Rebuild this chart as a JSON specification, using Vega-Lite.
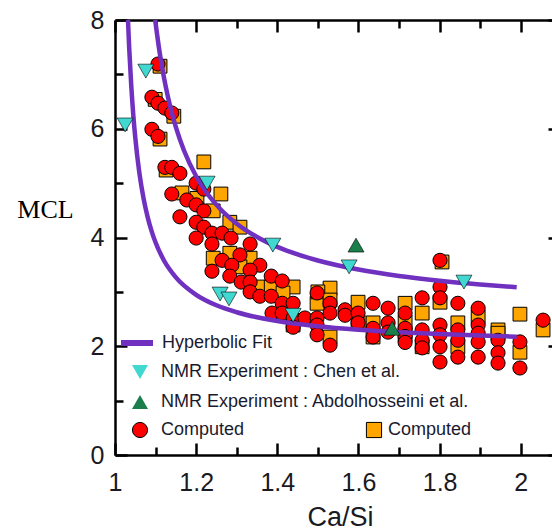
{
  "$schema": "https://vega.github.io/schema/vega-lite/v6.json",
  "width": 437,
  "height": 435,
  "autosize": {"type": "none"},
  "padding": {"left": 115, "top": 20, "right": 0, "bottom": 76},
  "background": "white",
  "config": {
    "view": {"stroke": null},
    "axis": {"domainColor": "black", "tickColor": "black", "domainWidth": 2.5, "tickWidth": 2.5, "grid": false, "zindex": 1, "labelFont": "Liberation Sans", "labelColor": "#1a1a22", "titleFont": "Liberation Sans", "titleColor": "#1a1a22", "titleFontWeight": "normal"},
    "legend": {"padding": 0, "labelFont": "Liberation Sans", "labelFontSize": 18, "labelColor": "#1a1a2e", "labelOffset": 6, "rowPadding": 12, "symbolStrokeColor": "black", "symbolStrokeWidth": 1, "labelLimit": 500}
  },
  "datasets": {
    "circles": [
      {"ca_si":1.106,"mcl":7.19},{"ca_si":1.091,"mcl":6.58},{"ca_si":1.106,"mcl":6.47},{"ca_si":1.123,"mcl":6.38},{"ca_si":1.140,"mcl":6.29},{"ca_si":1.091,"mcl":5.99},{"ca_si":1.106,"mcl":5.86},{"ca_si":1.123,"mcl":5.29},{"ca_si":1.140,"mcl":5.29},{"ca_si":1.160,"mcl":5.18},{"ca_si":1.200,"mcl":5.00},{"ca_si":1.219,"mcl":4.89},{"ca_si":1.140,"mcl":4.80},{"ca_si":1.177,"mcl":4.69},{"ca_si":1.200,"mcl":4.60},{"ca_si":1.219,"mcl":4.49},{"ca_si":1.160,"mcl":4.38},{"ca_si":1.200,"mcl":4.28},{"ca_si":1.219,"mcl":4.19},{"ca_si":1.239,"mcl":4.08},{"ca_si":1.264,"mcl":4.08},{"ca_si":1.200,"mcl":3.99},{"ca_si":1.286,"mcl":3.99},{"ca_si":1.239,"mcl":3.88},{"ca_si":1.333,"mcl":3.88},{"ca_si":1.264,"mcl":3.58},{"ca_si":1.308,"mcl":3.68},{"ca_si":1.288,"mcl":3.49},{"ca_si":1.357,"mcl":3.49},{"ca_si":1.239,"mcl":3.38},{"ca_si":1.333,"mcl":3.40},{"ca_si":1.283,"mcl":3.29},{"ca_si":1.385,"mcl":3.29},{"ca_si":1.311,"mcl":3.18},{"ca_si":1.333,"mcl":3.18},{"ca_si":1.412,"mcl":3.20},{"ca_si":1.333,"mcl":3.00},{"ca_si":1.357,"mcl":2.92},{"ca_si":1.385,"mcl":2.92},{"ca_si":1.412,"mcl":2.79},{"ca_si":1.439,"mcl":2.79},{"ca_si":1.387,"mcl":2.61},{"ca_si":1.412,"mcl":2.61},{"ca_si":1.439,"mcl":2.52},{"ca_si":1.439,"mcl":2.35},{"ca_si":1.468,"mcl":2.52},{"ca_si":1.498,"mcl":2.98},{"ca_si":1.530,"mcl":2.79},{"ca_si":1.498,"mcl":2.52},{"ca_si":1.498,"mcl":2.39},{"ca_si":1.530,"mcl":2.61},{"ca_si":1.567,"mcl":2.67},{"ca_si":1.567,"mcl":2.57},{"ca_si":1.599,"mcl":2.61},{"ca_si":1.498,"mcl":2.21},{"ca_si":1.530,"mcl":2.02},{"ca_si":1.636,"mcl":2.79},{"ca_si":1.599,"mcl":2.43},{"ca_si":1.636,"mcl":2.33},{"ca_si":1.636,"mcl":2.17},{"ca_si":1.673,"mcl":2.70},{"ca_si":1.673,"mcl":2.43},{"ca_si":1.673,"mcl":2.26},{"ca_si":1.715,"mcl":2.61},{"ca_si":1.715,"mcl":2.33},{"ca_si":1.715,"mcl":2.18},{"ca_si":1.715,"mcl":2.07},{"ca_si":1.757,"mcl":2.89},{"ca_si":1.757,"mcl":2.30},{"ca_si":1.757,"mcl":2.11},{"ca_si":1.757,"mcl":1.97},{"ca_si":1.801,"mcl":3.58},{"ca_si":1.801,"mcl":3.09},{"ca_si":1.801,"mcl":2.89},{"ca_si":1.801,"mcl":2.39},{"ca_si":1.801,"mcl":2.21},{"ca_si":1.801,"mcl":1.99},{"ca_si":1.801,"mcl":1.71},{"ca_si":1.845,"mcl":2.79},{"ca_si":1.845,"mcl":2.30},{"ca_si":1.845,"mcl":2.11},{"ca_si":1.845,"mcl":1.80},{"ca_si":1.895,"mcl":2.70},{"ca_si":1.895,"mcl":2.39},{"ca_si":1.895,"mcl":2.24},{"ca_si":1.895,"mcl":2.08},{"ca_si":1.895,"mcl":1.80},{"ca_si":1.944,"mcl":2.11},{"ca_si":1.944,"mcl":1.88},{"ca_si":1.944,"mcl":1.69},{"ca_si":1.998,"mcl":2.08},{"ca_si":1.998,"mcl":1.60},{"ca_si":2.055,"mcl":2.48}
    ],
    "squares": [
      {"ca_si":1.111,"mcl":7.15},{"ca_si":1.099,"mcl":6.54},{"ca_si":1.145,"mcl":6.23},{"ca_si":1.111,"mcl":5.81},{"ca_si":1.126,"mcl":5.24},{"ca_si":1.219,"mcl":5.39},{"ca_si":1.261,"mcl":4.80},{"ca_si":1.165,"mcl":4.82},{"ca_si":1.202,"mcl":4.72},{"ca_si":1.242,"mcl":4.49},{"ca_si":1.283,"mcl":4.28},{"ca_si":1.308,"mcl":4.19},{"ca_si":1.242,"mcl":3.62},{"ca_si":1.283,"mcl":3.71},{"ca_si":1.333,"mcl":3.62},{"ca_si":1.308,"mcl":3.46},{"ca_si":1.357,"mcl":3.09},{"ca_si":1.385,"mcl":3.09},{"ca_si":1.439,"mcl":3.09},{"ca_si":1.414,"mcl":2.98},{"ca_si":1.439,"mcl":2.39},{"ca_si":1.530,"mcl":3.07},{"ca_si":1.498,"mcl":2.79},{"ca_si":1.500,"mcl":3.00},{"ca_si":1.530,"mcl":2.85},{"ca_si":1.530,"mcl":2.17},{"ca_si":1.599,"mcl":2.81},{"ca_si":1.599,"mcl":2.45},{"ca_si":1.636,"mcl":2.43},{"ca_si":1.636,"mcl":2.17},{"ca_si":1.715,"mcl":2.79},{"ca_si":1.715,"mcl":2.45},{"ca_si":1.715,"mcl":2.21},{"ca_si":1.757,"mcl":2.61},{"ca_si":1.757,"mcl":1.99},{"ca_si":1.801,"mcl":2.81},{"ca_si":1.845,"mcl":2.43},{"ca_si":1.845,"mcl":1.99},{"ca_si":1.895,"mcl":2.54},{"ca_si":1.944,"mcl":2.30},{"ca_si":1.944,"mcl":2.24},{"ca_si":1.998,"mcl":2.59},{"ca_si":1.998,"mcl":1.89},{"ca_si":2.055,"mcl":2.30},{"ca_si":1.806,"mcl":3.55}
    ],
    "nmr": [
      {"ca_si":1.025,"mcl":6.07,"source":"NMR Experiment : Chen et al."},
      {"ca_si":1.076,"mcl":7.06,"source":"NMR Experiment : Chen et al."},
      {"ca_si":1.227,"mcl":5.00,"source":"NMR Experiment : Chen et al."},
      {"ca_si":1.389,"mcl":3.86,"source":"NMR Experiment : Chen et al."},
      {"ca_si":1.577,"mcl":3.46,"source":"NMR Experiment : Chen et al."},
      {"ca_si":1.860,"mcl":3.18,"source":"NMR Experiment : Chen et al."},
      {"ca_si":1.259,"mcl":2.96,"source":"NMR Experiment : Chen et al."},
      {"ca_si":1.281,"mcl":2.87,"source":"NMR Experiment : Chen et al."},
      {"ca_si":1.439,"mcl":2.57,"source":"NMR Experiment : Chen et al."},
      {"ca_si":1.594,"mcl":3.86,"source":"NMR Experiment : Abdolhosseini et al."},
      {"ca_si":1.683,"mcl":2.33,"source":"NMR Experiment : Abdolhosseini et al."}
    ],
    "fit_upper": [
      {"ca_si":1.099,"mcl":8.00},{"ca_si":1.11,"mcl":7.405},{"ca_si":1.12,"mcl":6.968},{"ca_si":1.13,"mcl":6.603},{"ca_si":1.14,"mcl":6.295},{"ca_si":1.15,"mcl":6.031},{"ca_si":1.17,"mcl":5.601},{"ca_si":1.2,"mcl":5.127},{"ca_si":1.23,"mcl":4.781},{"ca_si":1.26,"mcl":4.519},{"ca_si":1.3,"mcl":4.254},{"ca_si":1.35,"mcl":4.010},{"ca_si":1.4,"mcl":3.828},{"ca_si":1.45,"mcl":3.688},{"ca_si":1.5,"mcl":3.577},{"ca_si":1.6,"mcl":3.410},{"ca_si":1.7,"mcl":3.292},{"ca_si":1.8,"mcl":3.204},{"ca_si":1.9,"mcl":3.135},{"ca_si":1.99,"mcl":3.086}
    ],
    "fit_lower": [
      {"ca_si":1.032,"mcl":8.00},{"ca_si":1.035,"mcl":7.483},{"ca_si":1.04,"mcl":6.796},{"ca_si":1.045,"mcl":6.261},{"ca_si":1.05,"mcl":5.833},{"ca_si":1.06,"mcl":5.191},{"ca_si":1.07,"mcl":4.733},{"ca_si":1.08,"mcl":4.389},{"ca_si":1.09,"mcl":4.122},{"ca_si":1.1,"mcl":3.908},{"ca_si":1.12,"mcl":3.587},{"ca_si":1.15,"mcl":3.266},{"ca_si":1.2,"mcl":2.946},{"ca_si":1.25,"mcl":2.753},{"ca_si":1.3,"mcl":2.625},{"ca_si":1.4,"mcl":2.464},{"ca_si":1.5,"mcl":2.368},{"ca_si":1.6,"mcl":2.304},{"ca_si":1.7,"mcl":2.258},{"ca_si":1.8,"mcl":2.224},{"ca_si":1.9,"mcl":2.197},{"ca_si":1.99,"mcl":2.177}
    ]
  },
  "resolve": {
    "scale": {"fill": "independent", "shape": "independent", "stroke": "independent"},
    "axis": {"x": "independent", "y": "independent"}
  },
  "layer": [
    {
      "data": {"name": "squares"},
      "mark": {"type": "point", "shape": "square", "filled": true, "size": 190, "stroke": "black", "strokeWidth": 1, "opacity": 1},
      "encoding": {
        "x": {"field": "ca_si", "type": "quantitative", "scale": {"domain": [1, 2.077], "nice": false, "zero": false},
              "axis": {"orient": "bottom", "title": "Ca/Si", "titleFontSize": 27, "titleX": 225, "titleY": 70, "titleBaseline": "alphabetic", "titleAlign": "center", "values": [1, 1.2, 1.4, 1.6, 1.8, 2], "ticks": false, "labelFontSize": 25, "labelPadding": 15, "labelFlush": false, "format": "~g"}},
        "y": {"field": "mcl", "type": "quantitative", "scale": {"domain": [0, 8], "nice": false, "zero": true},
              "axis": {"orient": "left", "title": "MCL", "titleFont": "Liberation Serif", "titleFontSize": 26, "titleColor": "black", "titleAngle": 0, "titleX": -70, "titleY": 197, "titleAlign": "center", "titleBaseline": "alphabetic", "values": [0, 2, 4, 6, 8], "ticks": false, "labelFontSize": 25, "labelPadding": 11, "labelFlush": false}},
        "fill": {"datum": "Computed", "scale": {"range": ["#FFA500"]},
                 "legend": {"orient": "none", "legendX": 250, "legendY": 401, "title": null, "symbolType": "square", "symbolSize": 230, "labelOffset": 5}}
      }
    },
    {
      "data": {"name": "circles"},
      "mark": {"type": "point", "shape": "circle", "filled": true, "size": 200, "stroke": "black", "strokeWidth": 1, "opacity": 1},
      "encoding": {
        "x": {"field": "ca_si", "type": "quantitative", "scale": {"domain": [1, 2.077], "nice": false, "zero": false},
              "axis": {"orient": "top", "offset": -435, "title": null, "values": [1, 1.2, 1.4, 1.6, 1.8, 2], "tickSize": 12, "labels": false, "domain": false}},
        "y": {"field": "mcl", "type": "quantitative", "scale": {"domain": [0, 8], "nice": false, "zero": true},
              "axis": {"orient": "right", "offset": -437, "title": null, "values": [0, 2, 4, 6, 8], "tickSize": 12, "labels": false, "domain": false}},
        "fill": {"datum": "Computed", "scale": {"range": ["#FF0000"]},
                 "legend": {"orient": "none", "legendX": 16, "legendY": 401, "title": null, "symbolType": "circle", "symbolSize": 230, "labelOffset": 12}}
      }
    },
    {
      "data": {"name": "fit_upper"},
      "mark": {"type": "line", "strokeWidth": 4.5, "interpolate": "monotone"},
      "encoding": {
        "x": {"field": "ca_si", "type": "quantitative", "scale": {"domain": [1, 2.077], "nice": false, "zero": false},
              "axis": {"orient": "bottom", "offset": -435, "title": null, "values": [1, 1.2, 1.4, 1.6, 1.8, 2], "tickSize": 12, "labels": false, "domain": true}},
        "y": {"field": "mcl", "type": "quantitative", "scale": {"domain": [0, 8], "nice": false, "zero": true},
              "axis": {"orient": "left", "offset": -437, "title": null, "values": [0, 2, 4, 6, 8], "tickSize": 4, "labels": false, "domain": false}},
        "stroke": {"datum": "Hyperbolic Fit", "scale": {"range": ["#7030C0"]},
                   "legend": {"orient": "none", "legendX": 3, "legendY": 304, "title": null, "symbolType": "stroke", "symbolSize": 1024, "symbolStrokeWidth": 6}}
      }
    },
    {
      "data": {"name": "fit_lower"},
      "mark": {"type": "line", "strokeWidth": 4.5, "interpolate": "monotone", "stroke": "#7030C0"},
      "encoding": {
        "x": {"field": "ca_si", "type": "quantitative", "scale": {"domain": [1, 2.077], "nice": false, "zero": false},
              "axis": {"orient": "top", "offset": -435, "title": null, "values": [1.1, 1.3, 1.5, 1.7, 1.9], "tickSize": 8, "labels": false, "domain": false}},
        "y": {"field": "mcl", "type": "quantitative", "scale": {"domain": [0, 8], "nice": false, "zero": true},
              "axis": {"orient": "right", "offset": -437, "title": null, "values": [1, 3, 5, 7], "tickSize": 8, "labels": false, "domain": false}}
      }
    },
    {
      "data": {"name": "nmr"},
      "mark": {"type": "point", "filled": true, "size": 256, "stroke": "black", "strokeWidth": 0.6, "opacity": 1},
      "encoding": {
        "x": {"field": "ca_si", "type": "quantitative", "scale": {"domain": [1, 2.077], "nice": false, "zero": false},
              "axis": {"orient": "bottom", "offset": -435, "title": null, "values": [1.1, 1.3, 1.5, 1.7, 1.9], "tickSize": 8, "labels": false, "domain": false}},
        "y": {"field": "mcl", "type": "quantitative", "scale": {"domain": [0, 8], "nice": false, "zero": true}, "axis": null},
        "fill": {"field": "source", "type": "nominal",
                 "scale": {"domain": ["NMR Experiment : Chen et al.", "NMR Experiment : Abdolhosseini et al."], "range": ["#40D8D0", "#1A7F4B"]},
                 "legend": {"orient": "none", "legendX": 16, "legendY": 343, "title": null, "symbolSize": 256, "labelOffset": 12}},
        "shape": {"field": "source", "type": "nominal",
                  "scale": {"domain": ["NMR Experiment : Chen et al.", "NMR Experiment : Abdolhosseini et al."], "range": ["triangle-down", "triangle-up"]},
                  "legend": {"orient": "none", "legendX": 16, "legendY": 343, "title": null, "symbolSize": 256, "labelOffset": 12}}
      }
    }
  ]
}
